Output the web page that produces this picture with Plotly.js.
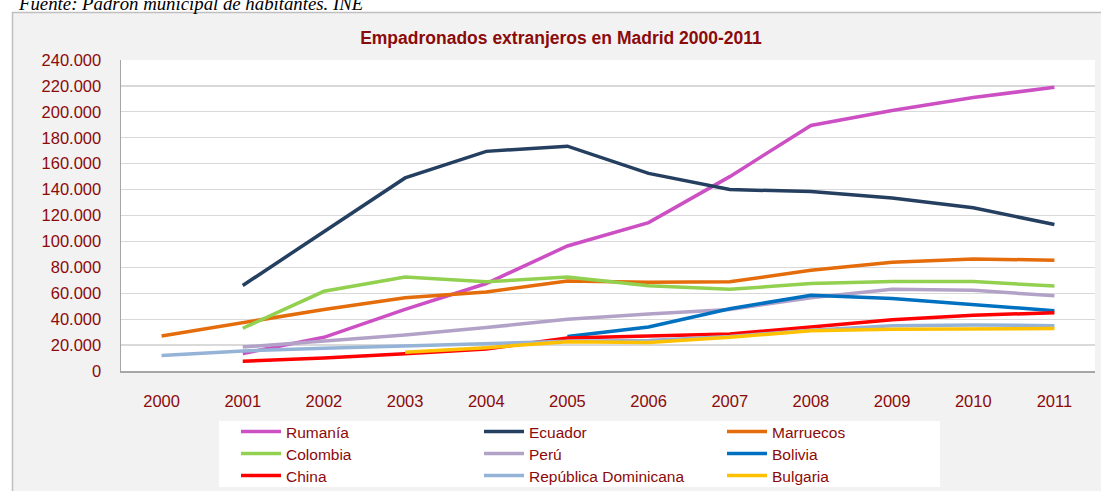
<!DOCTYPE html>
<html>
<head>
<meta charset="utf-8">
<script src="https://cdn.plot.ly/plotly-3.0.1.min.js"></script>
<style>html,body{margin:0;padding:0;background:#fff;}#chart{width:1101px;height:491px;}</style>
</head>
<body>
<div id="chart"></div>
<script>
var years = ['2000','2001','2002','2003','2004','2005','2006','2007','2008','2009','2010','2011'];
var rumania    = [null, 13500, 26000, 47500, 67500, 96500, 114500, 150000, 189500, 201000, 211000, 219000];
var ecuador    = [null, 66000, 107500, 149000, 169500, 173500, 152500, 140000, 138500, 133500, 126000, 113000];
var marruecos  = [27000, 37500, 47500, 56500, 61000, 69500, 68500, 68800, 77800, 84000, 86500, 85500];
var colombia   = [null, 33000, 61500, 72500, 68800, 72500, 65800, 63000, 67500, 69000, 69000, 65500];
var peru       = [null, 18500, 23000, 27700, 33500, 40000, 44000, 47500, 56500, 63000, 62300, 58000];
var bolivia    = [null, null, null, null, null, 26700, 34000, 48000, 58500, 56000, 51500, 46500];
var china      = [null, 7500, 10000, 13300, 17000, 25500, 27000, 28500, 34000, 39500, 43000, 45000];
var repDom     = [12000, 15500, 17500, 19500, 21000, 23000, 23500, 26700, 31500, 35000, 35500, 35000];
var bulgaria   = [null, null, null, 14500, 18000, 22500, 22000, 26000, 31000, 32300, 32800, 32800];

var names  = ['Rumanía','Ecuador','Marruecos','Colombia','Perú','Bolivia','China','República Dominicana','Bulgaria'];
var series = [rumania, ecuador, marruecos, colombia, peru, bolivia, china, repDom, bulgaria];
var colors = ['#CC4FC4','#243F60','#E46C0A','#92D050','#B3A2C7','#0070C0','#FF0000','#95B3D7','#FFC000'];
var legendIds = ['legend','legend','legend','legend2','legend2','legend2','legend3','legend3','legend3'];

var textColor = '#8B0A0A';
var font = 'Liberation Sans, Arial, sans-serif';

var traces = series.map(function(s, i){
  return {x: years, y: s, name: names[i], type: 'scatter', mode: 'lines',
          legend: legendIds[i],
          line: {color: colors[i], width: 3.5}, connectgaps: false};
});

// pixel helpers (plot area: x 121..1095, y 60..371)
var L = 121, R = 1095, T = 60, B = 371;
function px(x){ return (x - L) / (R - L); }
function py(y){ return (B - y) / (B - T); }

function legendRow(yc){
  return {orientation: 'h', x: px(236), y: py(yc), xanchor: 'left', yanchor: 'middle',
          bgcolor: 'rgba(0,0,0,0)', borderwidth: 0, entrywidth: 188, entrywidthmode: 'pixels',
          itemwidth: 40, traceorder: 'normal',
          font: {family: font, size: 15.5, color: textColor}};
}

var layout = {
  width: 1101, height: 491,
  margin: {l: L, r: 1101 - R, t: T, b: 491 - B, pad: 0, autoexpand: false},
  paper_bgcolor: '#ffffff',
  plot_bgcolor: 'rgba(0,0,0,0)',
  separators: ',.',
  font: {family: font, color: textColor, size: 16},
  title: {text: 'Empadronados extranjeros en Madrid 2000-2011',
          font: {family: font, size: 17.5, color: textColor, weight: 'bold'},
          xref: 'container', yref: 'container', x: 561/1101, y: 1 - 38/491,
          xanchor: 'center', yanchor: 'middle'},
  xaxis: {type: 'category', range: [-0.5, 11.5], showgrid: false, zeroline: false,
          showline: true, linecolor: '#A6A6A6', linewidth: 1.5,
          ticks: '', tickfont: {family: font, size: 16.5, color: textColor},
          ticklabelstandoff: 15, fixedrange: true, automargin: false},
  yaxis: {range: [0, 240000], tickvals: [0,20000,40000,60000,80000,100000,120000,140000,160000,180000,200000,220000,240000],
          tickformat: ',d', showgrid: true, gridcolor: '#D9D9D9', gridwidth: 1.2,
          zeroline: false, showline: true, linecolor: '#A6A6A6', linewidth: 1.5,
          ticks: '', tickfont: {family: font, size: 16.5, color: textColor},
          ticklabelstandoff: 15, fixedrange: true, automargin: false},
  legend: legendRow(432),
  legend2: legendRow(454),
  legend3: legendRow(476),
  shapes: [
    {type: 'rect', xref: 'paper', yref: 'paper', x0: px(12.5), x1: px(1120), y0: py(12.5), y1: py(520),
     fillcolor: '#F2F2F2', line: {color: '#BFBFBF', width: 1.5}, layer: 'below'},
    {type: 'rect', xref: 'paper', yref: 'paper', x0: 0, x1: 1, y0: 0, y1: 1,
     fillcolor: '#FFFFFF', line: {width: 0}, layer: 'below'},
    {type: 'rect', xref: 'paper', yref: 'paper', x0: px(219), x1: px(940), y0: py(421), y1: py(487),
     fillcolor: '#FFFFFF', line: {width: 0}, layer: 'below'}
  ],
  annotations: [
    {text: 'Fuente: Padrón municipal de habitantes. INE', xref: 'paper', yref: 'paper',
     x: px(16), y: py(3), xanchor: 'left', yanchor: 'middle', showarrow: false,
     font: {family: 'Liberation Serif, Times New Roman, serif', size: 18.8, color: '#000000', style: 'italic'}}
  ]
};

Plotly.newPlot('chart', traces, layout, {displayModeBar: false, staticPlot: true});
</script>
</body>
</html>
